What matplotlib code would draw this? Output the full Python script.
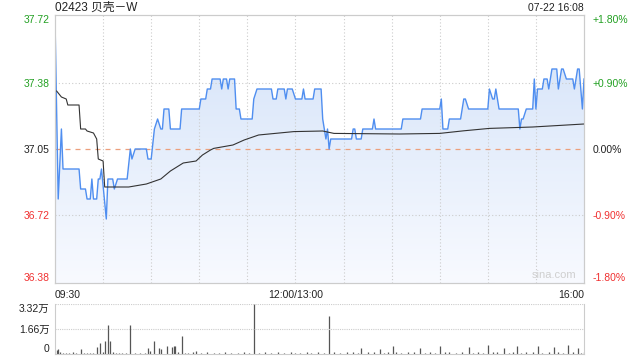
import numpy as np
import matplotlib
matplotlib.use('Agg')
import matplotlib.pyplot as plt

plt.rcParams['font.family'] = ['Liberation Sans', 'Noto Sans CJK SC', 'DejaVu Sans']

# 分时价格 (minutes after 09:30, price)
price_t = [0, 2, 4, 5, 15, 16, 19, 20, 22, 23, 24, 26, 27, 28, 29, 32, 33, 36, 37, 39,
           45, 47, 48, 50, 57, 58, 60, 62, 64, 66, 67, 68, 71, 72, 78, 79, 90, 91, 94, 95,
           97, 98, 103, 104, 105, 107, 108, 109, 112, 113, 115, 116, 123, 124, 126, 135, 136, 138, 139, 143,
           144, 145, 148, 150, 154, 155, 156, 161, 162, 166, 167, 168, 169, 170, 171, 172, 185, 186, 187, 188,
           191, 192, 198, 199, 200, 216, 217, 228, 229, 240, 241, 242, 245, 246, 253, 255, 256, 258, 270, 271,
           273, 274, 275, 277, 289, 290, 291, 292, 294, 298, 299, 300, 301, 304, 305, 307, 308, 310, 313, 314,
           316, 317, 319, 323, 324, 326, 327, 329, 330]
price_v = [37.70, 36.80, 37.15, 36.95, 36.95, 36.85, 36.85, 36.80, 36.80, 36.90, 36.80, 36.80, 36.90, 36.90, 36.95, 36.70, 36.90, 36.90, 36.85, 36.90,
           36.90, 37.05, 37.00, 37.05, 37.05, 37.00, 37.00, 37.15, 37.20, 37.15, 37.15, 37.25, 37.25, 37.15, 37.15, 37.25, 37.25, 37.30, 37.30, 37.35,
           37.35, 37.40, 37.40, 37.35, 37.40, 37.40, 37.35, 37.40, 37.40, 37.25, 37.25, 37.20, 37.20, 37.30, 37.35, 37.35, 37.30, 37.30, 37.35, 37.35,
           37.30, 37.35, 37.35, 37.30, 37.30, 37.35, 37.30, 37.30, 37.35, 37.35, 37.20, 37.15, 37.10, 37.15, 37.05, 37.10, 37.10, 37.15, 37.15, 37.10,
           37.10, 37.15, 37.15, 37.20, 37.15, 37.15, 37.20, 37.20, 37.25, 37.25, 37.30, 37.15, 37.15, 37.20, 37.20, 37.30, 37.30, 37.25, 37.25, 37.35,
           37.30, 37.30, 37.35, 37.25, 37.25, 37.15, 37.20, 37.20, 37.25, 37.25, 37.40, 37.25, 37.35, 37.35, 37.40, 37.40, 37.35, 37.45, 37.45, 37.35,
           37.45, 37.45, 37.40, 37.40, 37.35, 37.45, 37.45, 37.25, 37.40]

# 均价
avg_t = [1, 4, 7, 8, 15, 16, 19, 20, 24, 26, 27, 30, 31, 46, 57, 66, 72, 80, 88, 92,
         97, 99, 111, 118, 127, 149, 167, 174, 215, 240, 255, 271, 298, 330]
avg_v = [37.34, 37.31, 37.30, 37.27, 37.27, 37.15, 37.15, 37.14, 37.13, 37.10, 37.00, 36.99, 36.86, 36.86, 36.875, 36.90, 36.94, 36.98, 36.99, 37.02,
         37.045, 37.053, 37.07, 37.095, 37.12, 37.137, 37.14, 37.128, 37.125, 37.128, 37.141, 37.153, 37.16, 37.175]

# 成交量 (minute, shares)
vol_t = [1, 2, 3, 5, 7, 9, 11, 13, 16, 18, 20, 22, 24, 26, 28, 30, 31, 33, 34, 36,
         38, 40, 42, 44, 47, 50, 53, 56, 58, 59, 62, 65, 66, 70, 73, 74, 75, 77, 79, 81,
         83, 86, 88, 91, 95, 99, 102, 106, 110, 114, 118, 121, 124, 127, 131, 135, 139, 143, 147, 150,
         153, 157, 160, 164, 168, 171, 174, 178, 182, 186, 189, 191, 195, 199, 203, 205, 208, 211, 213, 216,
         220, 224, 228, 231, 234, 237, 240, 243, 246, 250, 254, 258, 261, 264, 267, 270, 273, 276, 280, 283,
         286, 288, 291, 294, 298, 301, 304, 308, 311, 314, 317, 320, 323, 326, 328, 330]
vol_v = [2600, 3300, 1300, 700, 900, 700, 1000, 700, 3300, 800, 700, 900, 700, 4500, 7200, 1000, 8700, 19500, 8700, 1000,
         800, 700, 900, 700, 19500, 800, 700, 900, 3900, 2000, 8700, 3900, 3300, 5200, 4500, 5200, 5200, 1300, 11700, 900,
         700, 1000, 2000, 800, 1200, 900, 700, 1300, 900, 800, 1100, 700, 33200, 900, 1200, 800, 1000, 700, 1100, 900,
         800, 1000, 900, 1200, 800, 25000, 1300, 900, 1100, 1500, 800, 4000, 1000, 1200, 3000, 900, 1300, 5000, 1000, 800,
         1200, 1000, 4000, 900, 1100, 800, 5500, 1000, 1200, 900, 1000, 4500, 800, 1100, 900, 6000, 1000, 1200, 4000, 900,
         1100, 5500, 800, 1000, 1300, 5000, 900, 1200, 4500, 1000, 800, 6000, 1100, 4000, 900, 1500]

prev_close = 37.05
y_ticks = [36.38, 36.72, 37.05, 37.38, 37.72]
y_labels = ['36.38', '36.72', '37.05', '37.38', '37.72']
pct_labels = ['-1.80%', '-0.90%', '0.00%', '+0.90%', '+1.80%']
tick_colors = ['#f03030', '#f03030', '#222222', '#22a022', '#22a022']

fig = plt.figure(figsize=(6.4, 3.6), dpi=100)
ax = fig.add_axes([55 / 640, 1 - 283 / 360, 529 / 640, 268 / 360])
axv = fig.add_axes([55 / 640, 1 - 354 / 360, 529 / 640, 50 / 360])

ax.set_xlim(0, 330)
ax.set_ylim(36.38, 37.72)

# gradient fill under the price line
poly = ax.fill_between(price_t, price_v, 36.38, color='none', lw=0)
grad = np.linspace(0, 1, 256).reshape(-1, 1)
cmap = matplotlib.colors.LinearSegmentedColormap.from_list('g', ['#d3e2f8', '#f8faff'])
img = ax.imshow(grad, cmap=cmap, aspect='auto', extent=[0, 330, 36.38, 37.72], origin='upper', zorder=1)
img.set_clip_path(poly.get_paths()[0], transform=ax.transData)

for t in range(30, 330, 30):
    ax.axvline(t, color='#cccccc', lw=0.8, ls=(0, (1, 2)), zorder=2)
for y in [36.72, 37.38]:
    ax.axhline(y, color='#cccccc', lw=0.8, ls=(0, (1, 2)), zorder=2)
ax.axhline(prev_close, color='#ec9f7c', lw=0.9, ls=(0, (4, 4)), zorder=2)

ax.plot(price_t, price_v, color='#4f8ef0', lw=1.0, zorder=4)
ax.plot(avg_t, avg_v, color='#333333', lw=0.8, zorder=5)

ax.set_yticks(y_ticks)
ax.set_yticklabels(y_labels)
ax.tick_params(axis='y', length=0, pad=4, labelsize=7.5)
for lab, c in zip(ax.get_yticklabels(), tick_colors):
    lab.set_color(c)
ax.get_yticklabels()[0].set_va('bottom')
ax.get_yticklabels()[-1].set_va('top')

ax2 = ax.twinx()
ax2.set_ylim(36.38, 37.72)
ax2.set_yticks(y_ticks)
ax2.set_yticklabels(pct_labels)
ax2.tick_params(axis='y', length=0, pad=6, labelsize=7.5)
for lab, c in zip(ax2.get_yticklabels(), tick_colors):
    lab.set_color(c)
ax2.get_yticklabels()[0].set_va('bottom')
ax2.get_yticklabels()[-1].set_va('top')

ax.set_xticks([0, 150, 330])
ax.set_xticklabels(['09:30', '12:00/13:00', '16:00'])
ax.tick_params(axis='x', length=0, pad=5, labelsize=7.5, labelcolor='#222222')
xl = ax.get_xticklabels()
xl[0].set_ha('left')
xl[-1].set_ha('right')

for a in (ax, ax2):
    for s in a.spines.values():
        s.set_color('#cccccc')
        s.set_linewidth(0.8)

ax.text(0.985, 0.012, 'sina.com', transform=ax.transAxes, ha='right', va='bottom',
        color='#cfcfcf', fontsize=8, zorder=6)
fig.text(55 / 640, 1 - 8 / 360, '02423 贝壳－W', ha='left', va='center', fontsize=8.5, color='#222222')
fig.text(584 / 640, 1 - 8 / 360, '07-22 16:08', ha='right', va='center', fontsize=7.5, color='#222222')

# volume panel
axv.set_xlim(0, 330)
axv.set_ylim(0, 33200)
axv.vlines(vol_t, 0, vol_v, color='#555555', lw=0.9)
axv.axhline(33200, color='#cccccc', lw=0.8, ls=(0, (1, 1)))
axv.axhline(16600, color='#cccccc', lw=0.8, ls=(0, (1, 1)))
axv.set_xticks([])
axv.set_yticks([0, 16600, 33200])
axv.set_yticklabels(['0', '1.66万', '3.32万'])
axv.tick_params(axis='y', length=0, pad=4, labelsize=7.5, labelcolor='#222222')
axv.get_yticklabels()[0].set_va('bottom')
axv.get_yticklabels()[-1].set_va('top')
axv.spines['top'].set_visible(False)
for s in ['left', 'right', 'bottom']:
    axv.spines[s].set_color('#cccccc')
    axv.spines[s].set_linewidth(0.8)

fig.savefig('out.png', dpi=100)
